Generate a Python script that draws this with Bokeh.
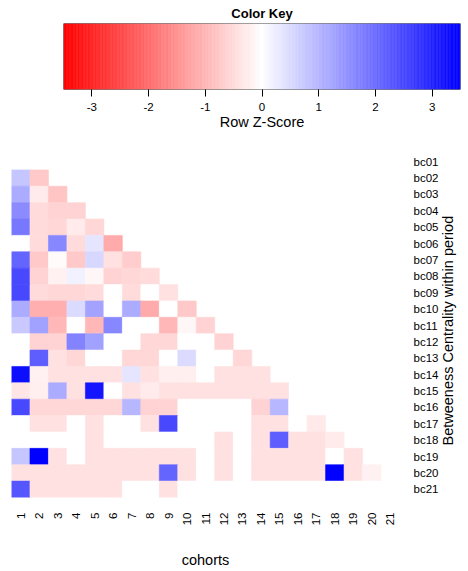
import math
import numpy as np
from bokeh.plotting import figure
from bokeh.layouts import row
from bokeh.models import ColumnDataSource, Range1d, FactorRange, LinearColorMapper, FixedTicker
from bokeh.transform import transform
from bokeh.embed import file_html
from bokeh.resources import INLINE
from bokeh.core.properties import value

# ---------------- data ----------------
cohorts = [str(i) for i in range(1, 22)]
periods = ["bc%02d" % i for i in range(1, 22)]
key_ticks = [-3, -2, -1, 0, 1, 2, 3]
z_low, z_high = -3.5, 3.5
key_title = "Color Key"
key_label = "Row Z-Score"
x_title = "cohorts"
y_title = "Betweeness Centrality within period"

bc01 = []
bc02 = [0.8, -0.75]
bc03 = [1.15, -0.27, -0.8]
bc04 = [1.6, -0.5, -0.6, -0.6]
bc05 = [1.85, -0.5, -0.55, -0.27, -0.55]
bc06 = [0.0, -0.5, 1.65, -0.5, 0.35, -1.15]
bc07 = [2.1, -0.75, -0.05, -0.75, 0.55, -0.4, -0.7]
bc08 = [2.5, -0.6, -0.2, 0.2, -0.1, -0.6, -0.55, -0.5]
bc09 = [2.5, -0.5, -0.55, -0.55, -0.5, 0.0, -0.5, 0.0, -0.4]
bc10 = [1.15, -1.1, -1.1, 0.5, 1.25, 0.0, 1.15, -1.15, 0.0, -0.75]
bc11 = [0.75, 1.3, -1.0, 0.0, -1.0, 1.65, 0.0, 0.0, -1.0, -0.1, -0.6]
bc12 = [0.0, -0.6, -0.6, 1.7, 1.3, 0.0, 0.0, -0.55, -0.55, 0.0, 0.0, -0.6]
bc13 = [0.0, 2.2, -0.4, -0.55, 0.0, 0.0, -0.55, -0.55, 0.0, 0.5, 0.0, 0.0, -0.55]
bc14 = [3.3, -0.2, -0.4, -0.4, -0.4, -0.4, 0.35, -0.4, -0.23, -0.23, 0.0, -0.4, -0.4, -0.4]
bc15 = [-0.35, -0.23, 1.15, -0.4, 3.2, 0.0, -0.4, -0.27, -0.4, -0.4, -0.4, -0.4, -0.4, -0.4, -0.4]
bc16 = [2.5, -0.55, -0.55, -0.55, -0.55, -0.55, 1.0, -0.6, -0.6, 0.0, 0.0, 0.0, 0.0, -0.6, 1.0, 0.0]
bc17 = [0.0, -0.4, -0.4, 0.0, -0.4, 0.0, 0.0, -0.4, 2.5, 0.0, 0.0, 0.0, 0.0, -0.4, -0.4, 0.0, -0.3]
bc18 = [0.0, 0.0, 0.0, 0.0, -0.4, 0.0, 0.0, 0.0, 0.0, 0.0, 0.0, -0.4, 0.0, -0.4, 2.2, -0.4, -0.4, -0.27]
bc19 = [0.8, 3.5, -0.4, 0.0, -0.4, -0.4, -0.4, -0.4, -0.4, -0.4, 0.0, -0.4, 0.0, -0.4, -0.4, -0.4, -0.4, 0.0, -0.4]
bc20 = [-0.4, -0.4, -0.4, -0.4, -0.4, -0.4, -0.4, -0.4, 2.1, -0.4, 0.0, -0.4, 0.0, -0.4, -0.4, -0.4, -0.4, 3.5, -0.4, -0.2]
bc21 = [2.3, -0.4, -0.4, -0.4, -0.4, -0.4, 0.0, 0.0, -0.4, 0.0, 0.0, 0.0, 0.0, 0.0, 0.0, 0.0, 0.0, 0.0, 0.0, 0.0, 0.0]

rows = [bc01, bc02, bc03, bc04, bc05, bc06, bc07, bc08, bc09, bc10, bc11,
        bc12, bc13, bc14, bc15, bc16, bc17, bc18, bc19, bc20, bc21]

# ---------------- colour scale (red - white - blue) ----------------
def ramp(n):
    cols = []
    for t in np.linspace(0, 1, n):
        if t <= 0.5:
            s = t / 0.5
            r, g, b = 255, int(round(255 * s)), int(round(255 * s))
        else:
            s = (t - 0.5) / 0.5
            r, g, b = int(round(255 * (1 - s))), int(round(255 * (1 - s))), 255
        cols.append("#%02x%02x%02x" % (r, g, b))
    return cols

mapper = LinearColorMapper(palette=ramp(255), low=z_low, high=z_high)
FONT = "Liberation Sans"

# ---------------- colour key ----------------
key = figure(width=468, height=138, x_range=Range1d(z_low, z_high), y_range=Range1d(0, 1),
             output_backend="svg", toolbar_location=None, title=key_title,
             min_border_left=63, min_border_right=8, min_border_top=23, min_border_bottom=49)
key.title.align = "center"
key.title.text_font = FONT
key.title.text_font_size = "13px"
key.title.text_font_style = "bold"
key.title.text_color = "black"
key.title.standoff = 6
edges = np.linspace(z_low, z_high, 281)
key_src = ColumnDataSource(dict(left=edges[:-1], right=edges[1:], v=(edges[:-1] + edges[1:]) / 2))
key.quad(left="left", right="right", bottom=0, top=1, source=key_src,
         fill_color=transform("v", mapper), line_color=transform("v", mapper), line_width=0.6)
key.quad(left=[z_low], right=[z_high], bottom=[0], top=[1], fill_color=None, line_color="#444444", line_width=1)
key.yaxis.visible = False
key.xgrid.visible = False
key.ygrid.visible = False
key.outline_line_color = None
kx = key.xaxis[0]
kx.ticker = FixedTicker(ticks=key_ticks)
kx.major_label_overrides = {t: str(t) for t in key_ticks}
kx.minor_tick_line_color = None
kx.major_tick_out = 7
kx.major_tick_in = 0
kx.major_tick_line_color = "black"
kx.axis_line_color = None
kx.major_label_standoff = 6
kx.major_label_text_font = FONT
kx.major_label_text_font_size = "11.5px"
kx.major_label_text_color = "black"
kx.axis_label = key_label
kx.axis_label_text_font = FONT
kx.axis_label_text_font_size = "14.5px"
kx.axis_label_text_font_style = "normal"
kx.axis_label_text_color = "black"
kx.axis_label_standoff = 0

# ---------------- heatmap ----------------
xs, ys, zs = [], [], []
for name, vals in zip(periods, rows):
    for c, v in zip(cohorts, vals):
        xs.append(c)
        ys.append(name)
        zs.append(v)
src = ColumnDataSource(dict(x=xs, y=ys, z=zs))

HM_H = 433
BT, BB = 15, 69
hm = figure(width=441, height=HM_H, x_range=FactorRange(*cohorts), y_range=FactorRange(*reversed(periods)),
            y_axis_location="right", output_backend="svg", toolbar_location=None,
            min_border_left=11, min_border_right=40, min_border_top=BT, min_border_bottom=BB)
hm.rect(x="x", y="y", width=1, height=1, source=src,
        fill_color=transform("z", mapper), line_color=transform("z", mapper), line_width=0.6)
hm.xgrid.visible = False
hm.ygrid.visible = False
hm.outline_line_color = None

for ax in (hm.xaxis[0], hm.yaxis[0]):
    ax.major_tick_line_color = None
    ax.major_tick_out = 0
    ax.major_tick_in = 0
    ax.minor_tick_line_color = None
    ax.axis_line_color = None
    ax.major_label_text_font = FONT
    ax.major_label_text_font_size = "11.5px"
    ax.major_label_text_color = "black"
    ax.axis_label_text_font = FONT
    ax.axis_label_text_font_size = "14.5px"
    ax.axis_label_text_font_style = "normal"
    ax.axis_label_text_color = "black"

xa = hm.xaxis[0]
xa.major_label_orientation = math.pi / 2
xa.major_label_standoff = 15
xa.axis_label = x_title
xa.axis_label_standoff = 24

ya = hm.yaxis[0]
ya.major_label_standoff = 14

# narrow strip holding the right-hand axis title (reads bottom to top)
tfig = figure(width=27, height=HM_H, x_range=Range1d(0, 1), y_range=Range1d(0, 1),
              output_backend="svg", toolbar_location=None,
              min_border_left=0, min_border_right=0, min_border_top=BT, min_border_bottom=BB)
tfig.axis.visible = False
tfig.grid.visible = False
tfig.outline_line_color = None
tfig.text(x=[0.24], y=[0.485], text=[y_title], angle=math.pi / 2, text_align="center", text_baseline="middle",
          text_font=value("Arial"), text_font_size="14.5px", text_color="black")

open("out.html", "w").write(file_html([key, row(hm, tfig)], INLINE))
